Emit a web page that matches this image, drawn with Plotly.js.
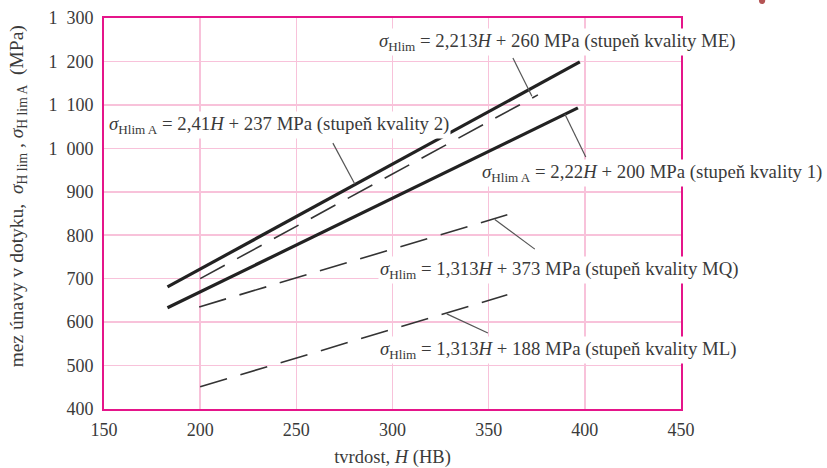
<!DOCTYPE html>
<html>
<head>
<meta charset="utf-8">
<script src="https://cdn.plot.ly/plotly-3.0.1.min.js"></script>
<style>html,body{margin:0;padding:0;background:#fff;}#chart{width:827px;height:468px;}</style>
</head>
<body>
<div id="chart"></div>
<script>
// Data (H in HB, stress in MPa)
const grade2_H = [183, 397.4];          // σHlimA = 2,41H + 237 (grade 2), solid
const grade2_S = [681, 1199];
const grade1_H = [183, 396.4];          // σHlimA = 2,22H + 200 (grade 1), solid
const grade1_S = [633, 1093];
const me_H = [200, 375.6];              // σHlim = 2,213H + 260 (ME), dashed
const me_S = [700, 1123];
const mq_H = [199.5, 359.7];            // σHlim = 1,313H + 373 (MQ), dashed
const mq_S = [635, 847];
const ml_H = [200, 359.7];              // σHlim = 1,313H + 188 (ML), dashed
const ml_S = [451, 663];

const xTicks = [150, 200, 250, 300, 350, 400, 450];
const yTicks = [400, 500, 600, 700, 800, 900, 1000, 1100, 1200, 1300];
const yTickText = ["400", "500", "600", "700", "800", "900", "1\u2002000", "1\u2002100", "1\u2002200", "1\u2002300"];

const labelTexts = [
  "<i>σ</i><sub>Hlim</sub> = 2,213<i>H</i> + 260 MPa (stupeň kvality ME)",
  "<i>σ</i><sub>Hlim A</sub> = 2,41<i>H</i> + 237 MPa (stupeň kvality 2)",
  "<i>σ</i><sub>Hlim A</sub> = 2,22<i>H</i> + 200 MPa (stupeň kvality 1)",
  "<i>σ</i><sub>Hlim</sub> = 1,313<i>H</i> + 373 MPa (stupeň kvality MQ)",
  "<i>σ</i><sub>Hlim</sub> = 1,313<i>H</i> + 188 MPa (stupeň kvality ML)"
];
const labelX = [291.8, 151.3, 345.4, 292.3, 292.3];
const labelY = [1245, 1054, 943, 720, 536];

// leader lines: [x0, y0, x1, y1] in data units
const leaders = [
  [362.6, 1208, 372.5, 1120],
  [269.0, 1012, 280.4, 918],
  [389.6, 1079, 400.5, 980],
  [353.2, 836, 374.0, 768],
  [328.2, 619, 349.6, 575]
];

const xTitle = "tvrdost, <i>H</i> (HB)";
const yTitle = "mez únavy v dotyku,  <i>σ</i><sub>H lim</sub> , <i>σ</i><sub>H lim A</sub>  (MPa)";

const FONT = "'Liberation Serif', 'Times New Roman', serif";
const TXT = "#3a3a3a";

function line(x, y, solid) {
  return {
    x: x, y: y, type: "scatter", mode: "lines", hoverinfo: "skip",
    line: solid ? {color: "#222", width: 3.2} : {color: "#333", width: 1.6, dash: "28px,14px"}
  };
}

const traces = [
  line(grade2_H, grade2_S, true),
  line(grade1_H, grade1_S, true),
  line(me_H, me_S, false),
  line(mq_H, mq_S, false),
  line(ml_H, ml_S, false)
];

const annotations = labelTexts.map((t, i) => ({
  text: t, x: labelX[i], y: labelY[i], xref: "x", yref: "y",
  xanchor: "left", yanchor: "middle", showarrow: false,
  bgcolor: "#ffffff", borderpad: 1,
  font: {family: FONT, size: 18.8, color: TXT}
}));
annotations.push({
  text: yTitle, xref: "paper", yref: "paper", x: -0.15, y: 0.545,
  xanchor: "center", yanchor: "middle", textangle: -90, showarrow: false,
  font: {family: FONT, size: 19.5, color: TXT}
});

const shapes = leaders.map(l => ({
  type: "line", xref: "x", yref: "y", x0: l[0], y0: l[1], x1: l[2], y1: l[3],
  line: {color: "#555", width: 1.2}, layer: "above"
}));
shapes.push({
  type: "circle", xref: "paper", yref: "paper", x0: 1.135, x1: 1.146, y0: 1.036, y1: 1.056,
  fillcolor: "#9b1b1b", line: {width: 0}, opacity: 0.75
});

const axisCommon = {
  showgrid: true, gridcolor: "#f8c2da", gridwidth: 1.5,
  showline: true, linecolor: "#e5158a", linewidth: 2, mirror: true,
  zeroline: false, ticks: "", tickfont: {family: FONT, size: 18, color: TXT}
};

const layout = {
  width: 827, height: 468,
  margin: {l: 104, r: 146, t: 18, b: 59},
  paper_bgcolor: "#fff", plot_bgcolor: "#fff",
  showlegend: false,
  xaxis: Object.assign({}, axisCommon, {
    range: [150, 450], tickmode: "array", tickvals: xTicks,
    ticklabelstandoff: 3,
    title: {text: xTitle, font: {family: FONT, size: 18.5, color: TXT}, standoff: 14}
  }),
  yaxis: Object.assign({}, axisCommon, {
    range: [400, 1300], tickmode: "array", tickvals: yTicks, ticktext: yTickText,
    ticklabelstandoff: 5
  }),
  annotations: annotations,
  shapes: shapes
};

Plotly.newPlot("chart", traces, layout, {displayModeBar: false, staticPlot: true});
</script>
</body>
</html>
